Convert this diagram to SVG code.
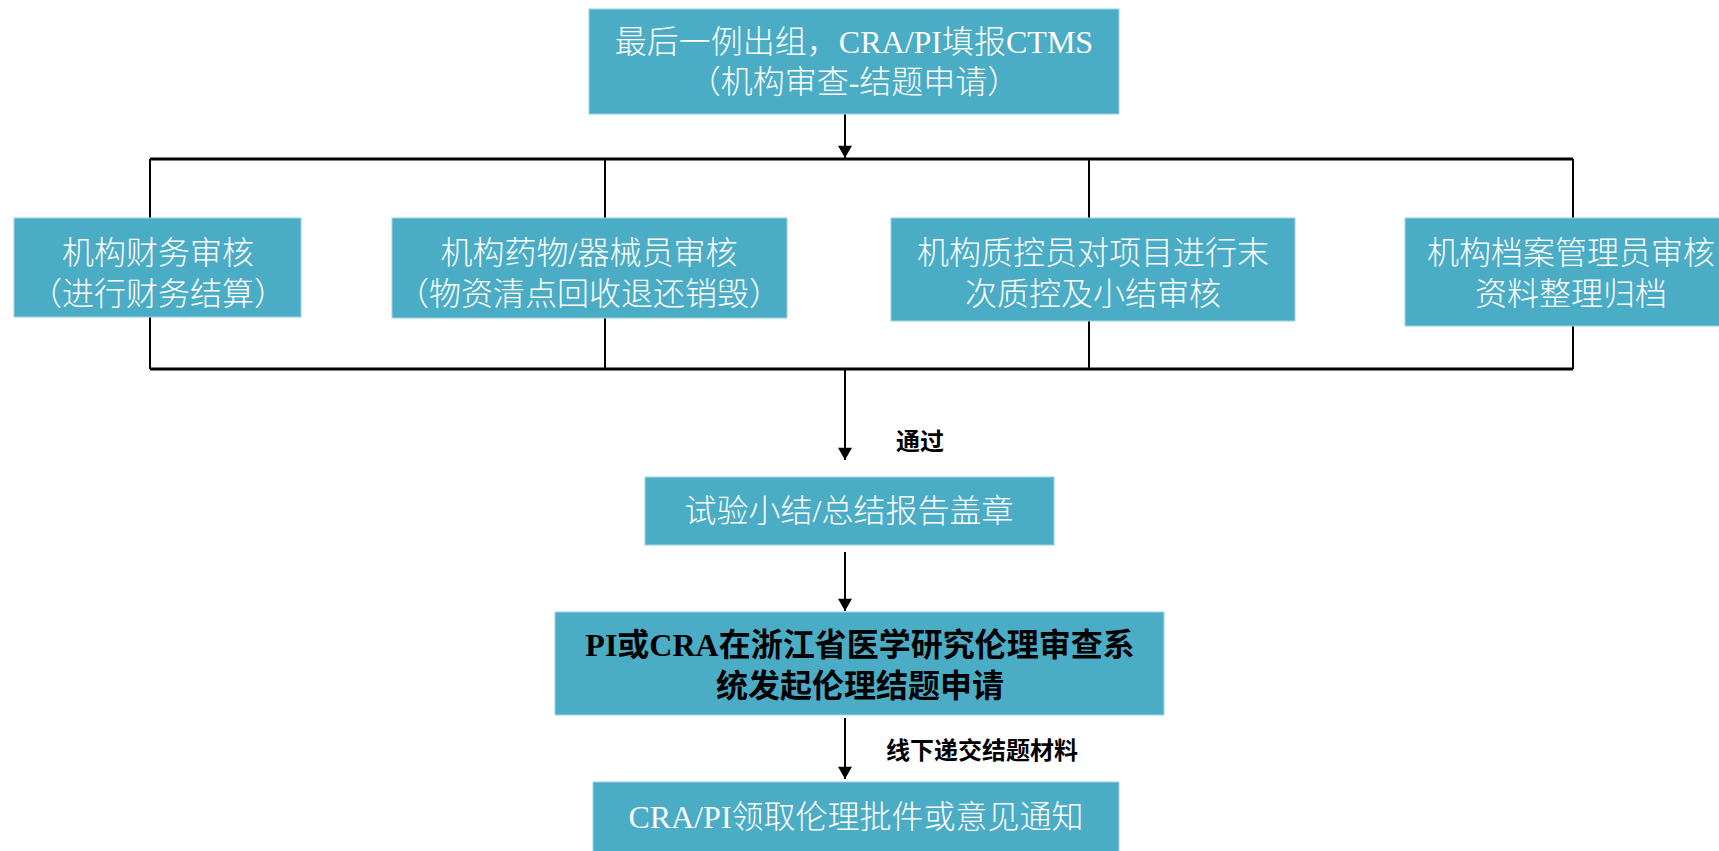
<svg xmlns="http://www.w3.org/2000/svg" width="1719" height="851" viewBox="0 0 1719 851">
<defs>
<style>
.box{fill:#4BACC6;stroke:#9CD3E2;stroke-width:1}
.t{font-family:"Liberation Serif","Noto Sans CJK SC",serif;font-size:32px;font-weight:300;fill:#ffffff;text-anchor:middle}
.tb{font-family:"Liberation Serif","Noto Sans CJK SC",serif;font-size:32px;font-weight:bold;fill:#000000;text-anchor:middle}
.lbl{font-family:"Liberation Sans","Noto Sans CJK SC",sans-serif;font-size:24px;font-weight:bold;fill:#000000}
.ln{stroke:#000;fill:none}
</style>
<marker id="ah" viewBox="0 0 14 16" refX="14" refY="8" markerWidth="16" markerHeight="14" markerUnits="userSpaceOnUse" orient="auto">
<path d="M0,0 L14,8 L0,16 z" fill="#000"/>
</marker>
</defs>
<rect width="1719" height="851" fill="#ffffff"/>
<g id="connectors">
<line class="ln" x1="150" y1="159" x2="1573" y2="159" stroke-width="3"/>
<line class="ln" x1="150" y1="369" x2="1573" y2="369" stroke-width="3"/>
<line class="ln" x1="150" y1="159" x2="150" y2="369" stroke-width="2"/>
<line class="ln" x1="605" y1="159" x2="605" y2="369" stroke-width="2"/>
<line class="ln" x1="1089" y1="159" x2="1089" y2="369" stroke-width="2"/>
<line class="ln" x1="1573" y1="159" x2="1573" y2="369" stroke-width="2"/>
<line class="ln" x1="845" y1="114" x2="845" y2="158" stroke-width="2" marker-end="url(#ah)"/>
<line class="ln" x1="845" y1="370" x2="845" y2="460" stroke-width="2" marker-end="url(#ah)"/>
<line class="ln" x1="845" y1="552" x2="845" y2="611" stroke-width="2" marker-end="url(#ah)"/>
<line class="ln" x1="845" y1="718" x2="845" y2="779" stroke-width="2" marker-end="url(#ah)"/>
<text class="lbl" x="896" y="450">通过</text>
<text class="lbl" x="886" y="759">线下递交结题材料</text>
</g>
<g id="n_top">
<rect class="box" x="589" y="9" width="530" height="105"/>
<text class="t" x="854" y="53">最后一例出组，CRA/PI填报CTMS</text>
<text class="t" x="854" y="93">（机构审查-结题申请）</text>
</g>
<g id="n_finance">
<rect class="box" x="14" y="218" width="287" height="99"/>
<text class="t" x="158" y="264">机构财务审核</text>
<text class="t" x="158" y="305">（进行财务结算）</text>
</g>
<g id="n_drug">
<rect class="box" x="392" y="218" width="395" height="100"/>
<text class="t" x="589" y="264">机构药物/器械员审核</text>
<text class="t" x="589" y="305">（物资清点回收退还销毁）</text>
</g>
<g id="n_qc">
<rect class="box" x="891" y="218" width="404" height="103"/>
<text class="t" x="1093" y="264">机构质控员对项目进行末</text>
<text class="t" x="1093" y="305">次质控及小结审核</text>
</g>
<g id="n_archive">
<rect class="box" x="1405" y="218" width="320" height="108"/>
<text class="t" x="1571" y="264">机构档案管理员审核</text>
<text class="t" x="1571" y="305">资料整理归档</text>
</g>
<g id="n_report">
<rect class="box" x="645" y="477" width="409" height="68"/>
<text class="t" x="849" y="522">试验小结/总结报告盖章</text>
</g>
<g id="n_ethics">
<rect class="box" x="555" y="612" width="609" height="103"/>
<text class="tb" x="860" y="656">PI或CRA在浙江省医学研究伦理审查系</text>
<text class="tb" x="860" y="697">统发起伦理结题申请</text>
</g>
<g id="n_notice">
<rect class="box" x="593" y="782" width="526" height="75"/>
<text class="t" x="856" y="828">CRA/PI领取伦理批件或意见通知</text>
</g>
</svg>
